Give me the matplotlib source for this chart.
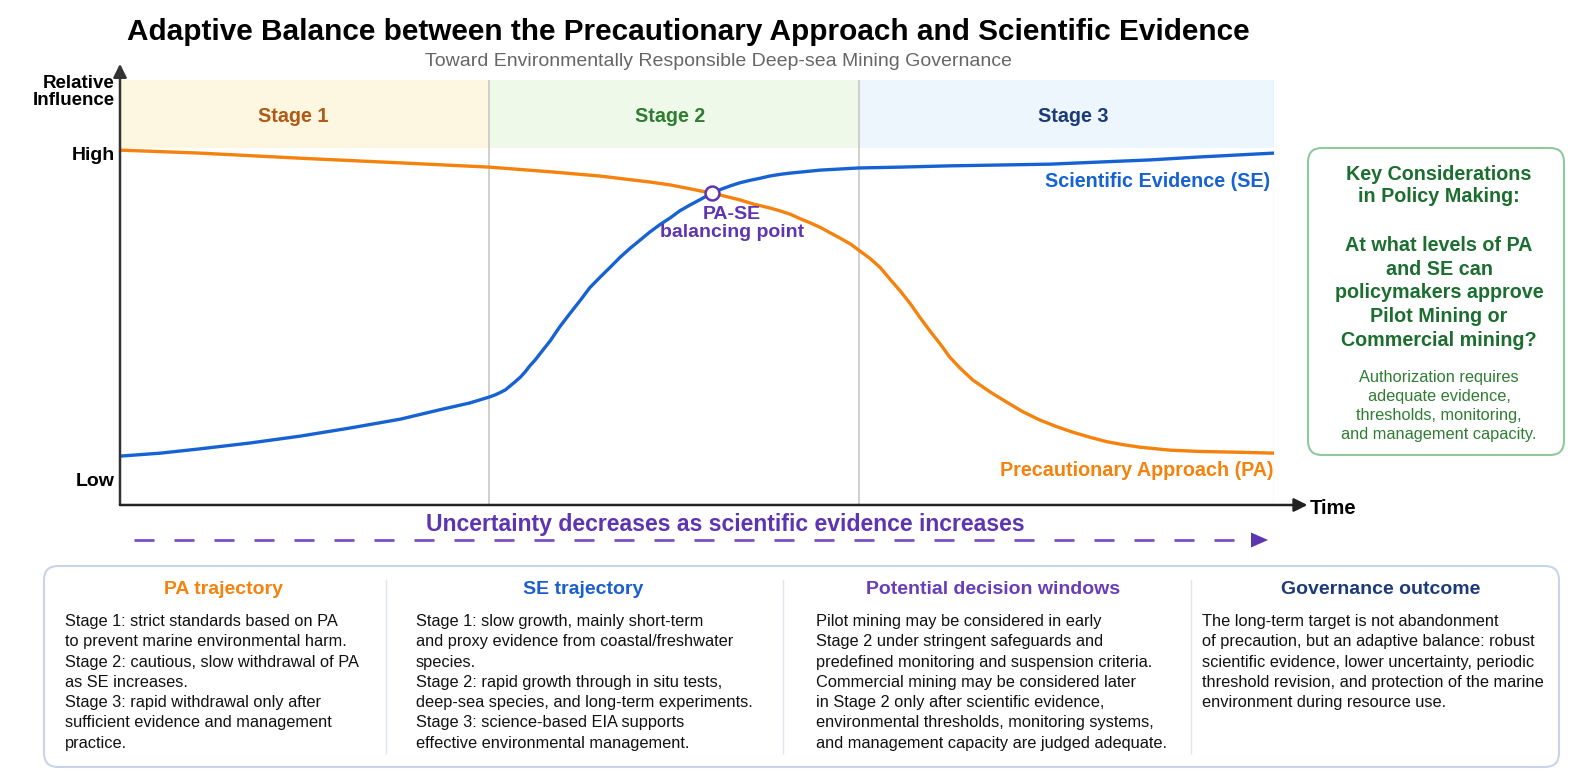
import matplotlib
matplotlib.use("Agg")
import matplotlib.pyplot as plt
from matplotlib.patches import Rectangle, FancyBboxPatch, Polygon

plt.rcParams['font.family'] = ['Liberation Sans', 'DejaVu Sans']

# ---- data (time 0-100, relative influence 0-100) ----
stage_names = ["Stage 1", "Stage 2", "Stage 3"]
stage_edges = [0, 32, 64, 100]
stage_label_t = [15.0, 47.7, 82.6]

pa_t = [0, 6.9, 15.6, 24.3, 32.0, 37.3, 41.6, 45.9, 47.7, 49.4, 50.3, 51.3, 52.5, 53.7,
        54.9, 56.3, 57.2, 58.1, 58.9, 59.8, 60.7, 61.5, 62.4, 63.3, 64.0, 65.0, 65.9,
        66.7, 67.6, 68.5, 69.3, 70.2, 71.1, 71.9, 72.8, 73.9, 75.4, 76.9, 78.2, 79.7,
        81.2, 82.6, 84.1, 85.5, 86.9, 88.4, 91.0, 93.6, 97.1, 100]
pa_y = [83.5, 82.8, 81.6, 80.5, 79.5, 78.4, 77.4, 76.0, 75.3, 74.4, 73.9, 73.4, 72.6, 71.8,
        70.8, 69.9, 69.2, 68.4, 67.4, 66.4, 65.3, 64.1, 62.8, 61.4, 60.0, 58.0, 55.8,
        53.2, 50.4, 47.3, 44.2, 40.9, 37.8, 34.8, 32.2, 29.4, 26.6, 24.1, 22.0, 20.0,
        18.4, 17.1, 15.9, 14.9, 14.2, 13.6, 12.9, 12.6, 12.4, 12.2]

se_t = [0, 3.5, 6.9, 11.3, 15.6, 19.9, 24.3, 27.7, 30.3, 32.0, 32.5, 32.9, 33.4, 33.8,
        34.2, 34.7, 35.1, 35.5, 36.0, 36.4, 37.3, 38.1, 39.0, 39.9, 40.7, 41.6, 42.5,
        43.3, 44.2, 45.1, 45.9, 46.8, 47.7, 48.5, 49.4, 50.3, 51.3, 52.0, 52.9, 53.7,
        54.6, 55.5, 56.3, 57.2, 58.1, 60.7, 64.0, 67.6, 71.9, 76.3, 80.6, 84.9, 89.3,
        93.6, 100]
se_y = [11.5, 12.2, 13.2, 14.6, 16.2, 18.1, 20.2, 22.4, 24.0, 25.4, 25.9, 26.4, 27.1, 28.0,
        28.9, 30.1, 31.3, 32.7, 34.2, 35.6, 38.7, 41.9, 45.1, 48.2, 51.1, 53.6, 56.0,
        58.2, 60.4, 62.4, 64.2, 66.0, 67.6, 69.2, 70.6, 71.9, 73.4, 74.2, 75.1, 75.8,
        76.4, 76.9, 77.4, 77.8, 78.1, 78.8, 79.3, 79.5, 79.8, 80.0, 80.2, 80.7, 81.2,
        81.9, 82.8]

balance_t, balance_y = 51.3, 73.4

column_titles = ["PA trajectory", "SE trajectory", "Potential decision windows", "Governance outcome"]
column_texts = [
    "Stage 1: strict standards based on PA\nto prevent marine environmental harm.\n"
    "Stage 2: cautious, slow withdrawal of PA\nas SE increases.\n"
    "Stage 3: rapid withdrawal only after\nsufficient evidence and management\npractice.",
    "Stage 1: slow growth, mainly short-term\nand proxy evidence from coastal/freshwater\n"
    "species.\nStage 2: rapid growth through in situ tests,\n"
    "deep-sea species, and long-term experiments.\nStage 3: science-based EIA supports\n"
    "effective environmental management.",
    "Pilot mining may be considered in early\nStage 2 under stringent safeguards and\n"
    "predefined monitoring and suspension criteria.\nCommercial mining may be considered later\n"
    "in Stage 2 only after scientific evidence,\nenvironmental thresholds, monitoring systems,\n"
    "and management capacity are judged adequate.",
    "The long-term target is not abandonment\nof precaution, but an adaptive balance: robust\n"
    "scientific evidence, lower uncertainty, periodic\nthreshold revision, and protection of the marine\n"
    "environment during resource use.",
]

# ---- colours ----
c_pa = '#f5820d'
c_se = '#1662d3'
c_purple = '#5e35b1'
c_navy = '#1c3a78'
c_green = '#1b6e2f'
band_colors = ['#fdf6e1', '#eff9ea', '#eef6fd']
stage_label_colors = ['#b05a14', '#2e7d32', '#1c3a78']
column_colors = [c_pa, '#1a5fd0', '#6a3db8', c_navy]

W, H = 1579, 783
fig = plt.figure(figsize=(W / 100, H / 100), dpi=100)

# background axes in pixel units
bg = fig.add_axes([0, 0, 1, 1])
bg.set_xlim(0, W)
bg.set_ylim(H, 0)
bg.axis('off')

# main chart axes
L, R, T, B = 120, 1274, 80, 505
ax = fig.add_axes([L / W, (H - B) / H, (R - L) / W, (B - T) / H])
ax.set_xlim(0, 100)
ax.set_ylim(0, 100)
ax.axis('off')

# stage bands
band_bottom = 84.0
for i, name in enumerate(stage_names):
    x0, x1 = stage_edges[i], stage_edges[i + 1]
    ax.add_patch(Rectangle((x0, band_bottom), x1 - x0, 100 - band_bottom,
                           color=band_colors[i], lw=0, zorder=0))
    ax.text(stage_label_t[i], 91.3, name, ha='center', va='center', fontsize=14.2,
            fontweight='bold', color=stage_label_colors[i])
for e in stage_edges[1:-1]:
    ax.axvline(e, color='#c8c8c8', lw=1.2, zorder=1)
ax.axvline(100, color='#e4e8ee', lw=1, zorder=1)

# curves
ax.plot(pa_t, pa_y, color=c_pa, lw=2.4, zorder=3, solid_joinstyle='round')
ax.plot(se_t, se_y, color=c_se, lw=2.4, zorder=3, solid_joinstyle='round')
ax.plot(balance_t, balance_y, 'o', ms=10, mfc='white', mec=c_purple, mew=1.8, zorder=4)
ax.text(53.0, 66.2, "PA-SE\nbalancing point", ha='center', va='center', fontsize=14,
        fontweight='bold', color=c_purple, linespacing=1.1)
ax.text(99.65, 76.2, "Scientific Evidence (SE)", ha='right', va='center', fontsize=14.2,
        fontweight='bold', color=c_se)
ax.text(100, 8.2, "Precautionary Approach (PA)", ha='right', va='center', fontsize=14.2,
        fontweight='bold', color=c_pa)

# axis arrows
ax.annotate('', xy=(0, 1.038), xytext=(0, 0), xycoords='axes fraction',
            arrowprops=dict(arrowstyle='-|>', color='#333333', lw=1.8, mutation_scale=20,
                            shrinkA=0, shrinkB=0))
ax.annotate('', xy=(1.029, 0), xytext=(0, 0), xycoords='axes fraction',
            arrowprops=dict(arrowstyle='-|>', color='#222222', lw=1.8, mutation_scale=20,
                            shrinkA=0, shrinkB=0))

# titles and axis labels
bg.text(688, 32, "Adaptive Balance between the Precautionary Approach and Scientific Evidence",
        ha='center', va='center', fontsize=21.4, fontweight='bold', color='black')
bg.text(718, 62, "Toward Environmentally Responsible Deep-sea Mining Governance",
        ha='center', va='center', fontsize=14, color='#666666')
bg.text(115, 92, "Relative\nInfluence", ha='right', va='center', fontsize=13.5,
        fontweight='bold', linespacing=1.05)
bg.text(115, 155, "High", ha='right', va='center', fontsize=14, fontweight='bold')
bg.text(115, 481, "Low", ha='right', va='center', fontsize=14, fontweight='bold')
bg.text(1310, 508, "Time", ha='left', va='center', fontsize=14.5, fontweight='bold')

# uncertainty arrow
bg.text(725, 524, "Uncertainty decreases as scientific evidence increases", ha='center',
        va='center', fontsize=16.6, fontweight='bold', color=c_purple)
bg.plot([134, 1250], [540, 540], color='#7a4fc4', lw=2, dashes=(7.2, 7.2))
bg.add_patch(Polygon([[1251, 532.5], [1268, 540], [1251, 547.5]], closed=True,
                     color='#5e35b1', lw=0))

# key considerations box
bg.add_patch(FancyBboxPatch((1308, 148), 256, 307, boxstyle='round,pad=0,rounding_size=14',
                            fc='white', ec='#91c99c', lw=1.5))
bg.text(1439, 185, "Key Considerations\nin Policy Making:", ha='center', va='center',
        fontsize=14.2, fontweight='bold', color=c_green, linespacing=1.2)
bg.text(1439, 293, "At what levels of PA\nand SE can\npolicymakers approve\nPilot Mining or\n"
        "Commercial mining?", ha='center', va='center', fontsize=14.2, fontweight='bold',
        color=c_green, linespacing=1.32)
bg.text(1439, 406, "Authorization requires\nadequate evidence,\nthresholds, monitoring,\n"
        "and management capacity.", ha='center', va='center', fontsize=11.8,
        color='#2e7d32', linespacing=1.33)

# bottom panel
bg.add_patch(FancyBboxPatch((44, 566), 1515, 201, boxstyle='round,pad=0,rounding_size=14',
                            fc='white', ec='#c8d5e8', lw=1.5))
for xd in [386, 783, 1191]:
    bg.plot([xd, xd], [580, 753], color='#e0e5ee', lw=1)
header_x = [224, 583, 993, 1381]
text_x = [65, 416, 816, 1202]
for i in range(4):
    bg.text(header_x[i], 589, column_titles[i], ha='center', va='center', fontsize=14,
            fontweight='bold', color=column_colors[i])
    bg.text(text_x[i], 614, column_texts[i], ha='left', va='top', fontsize=11.8,
            color='#111111', linespacing=1.44)

fig.savefig('out.png', dpi=100)
